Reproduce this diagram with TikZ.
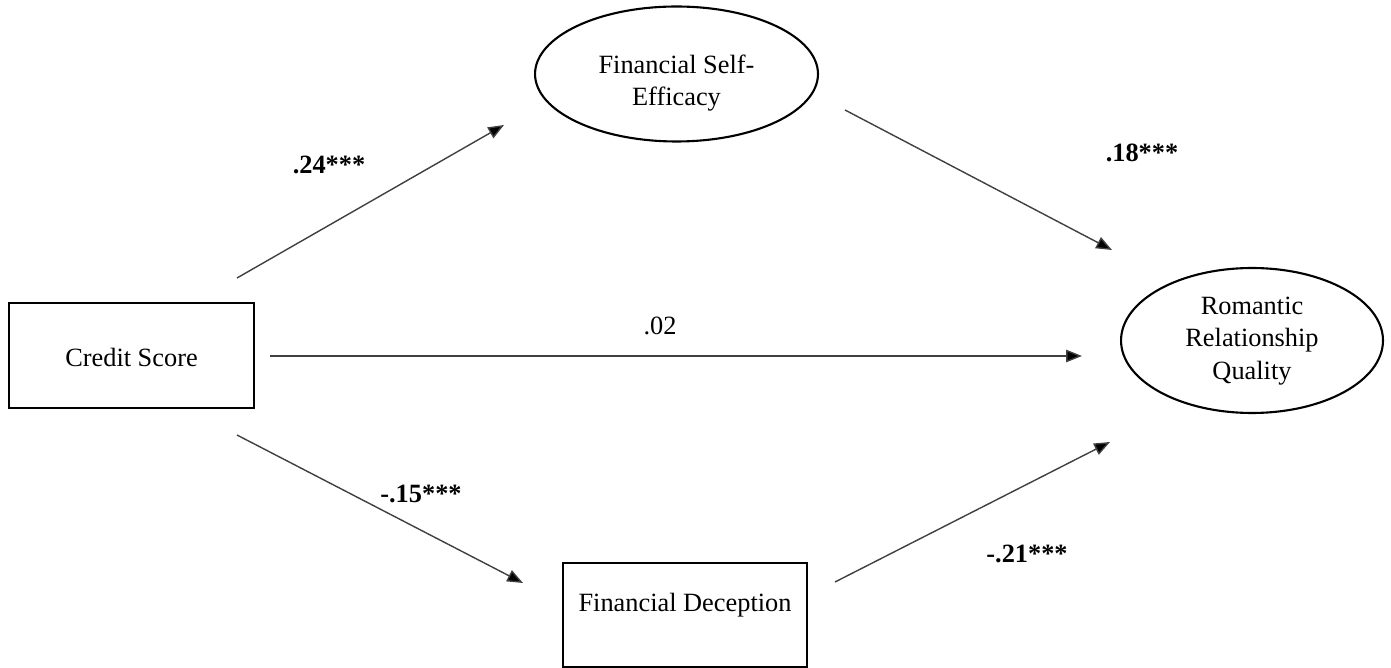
\documentclass[tikz,border=0pt]{standalone}
\usepackage{fontspec}
\setmainfont{Liberation Serif}
\usetikzlibrary{shapes.geometric,arrows.meta}
\begin{document}
\begin{tikzpicture}[x={(0.02cm,0)},y={(0,-0.02cm)},
  every node/.style={font=\fontsize{15}{18.5}\selectfont},
  boxnode/.style={draw,line width=1.4pt,inner sep=0pt},
  ellnode/.style={ellipse,draw,line width=1.2pt,inner sep=0pt},
  txt/.style={align=center,inner sep=0pt},
  path/.style={draw=black!75,line width=0.8pt,-{Triangle[length=9pt,width=7pt,fill=black]}},
  coef/.style={font=\fontsize{15}{18}\selectfont\bfseries}]
\useasboundingbox (0,0) rectangle (1391,668);
\node[boxnode,minimum width=4.9cm,minimum height=2.1cm] (cs) at (131.5,355.5) {};
\node[txt] (cst) at (131.5,357) {Credit Score};
\node[ellnode,minimum width=5.66cm,minimum height=2.7cm] (fse) at (676.5,74) {};
\node[txt] (fset) at (676.5,83) {Financial Self-\\Efficacy};
\node[ellnode,minimum width=5.24cm,minimum height=2.9cm] (rrq) at (1252,340.5) {};
\node[txt] (rrqt) at (1252,341) {Romantic\\Relationship\\Quality};
\node[boxnode,minimum width=4.88cm,minimum height=2.08cm] (fd) at (685,615) {};
\node[txt] (fdt) at (685,605) {Financial Deception};
\coordinate (a1s) at (237,278); \coordinate (a1e) at (504,125);
\coordinate (a2s) at (845,110); \coordinate (a2e) at (1112,250);
\coordinate (a3s) at (270,356); \coordinate (a3e) at (1082,356);
\coordinate (a4s) at (237,435); \coordinate (a4e) at (523,583);
\coordinate (a5s) at (835,582); \coordinate (a5e) at (1110,442);
\draw[path] (a1s) -- (a1e);
\draw[path] (a2s) -- (a2e);
\draw[path] (a3s) -- (a3e);
\draw[path] (a4s) -- (a4e);
\draw[path] (a5s) -- (a5e);
\node[coef] (l1) at (329,165) {.24***};
\node[coef] (l2) at (1142,153) {.18***};
\node (l3) at (660,326) {.02};
\node[coef] (l4) at (421,494) {-.15***};
\node[coef] (l5) at (1027,554) {-.21***};
\end{tikzpicture}
\end{document}
